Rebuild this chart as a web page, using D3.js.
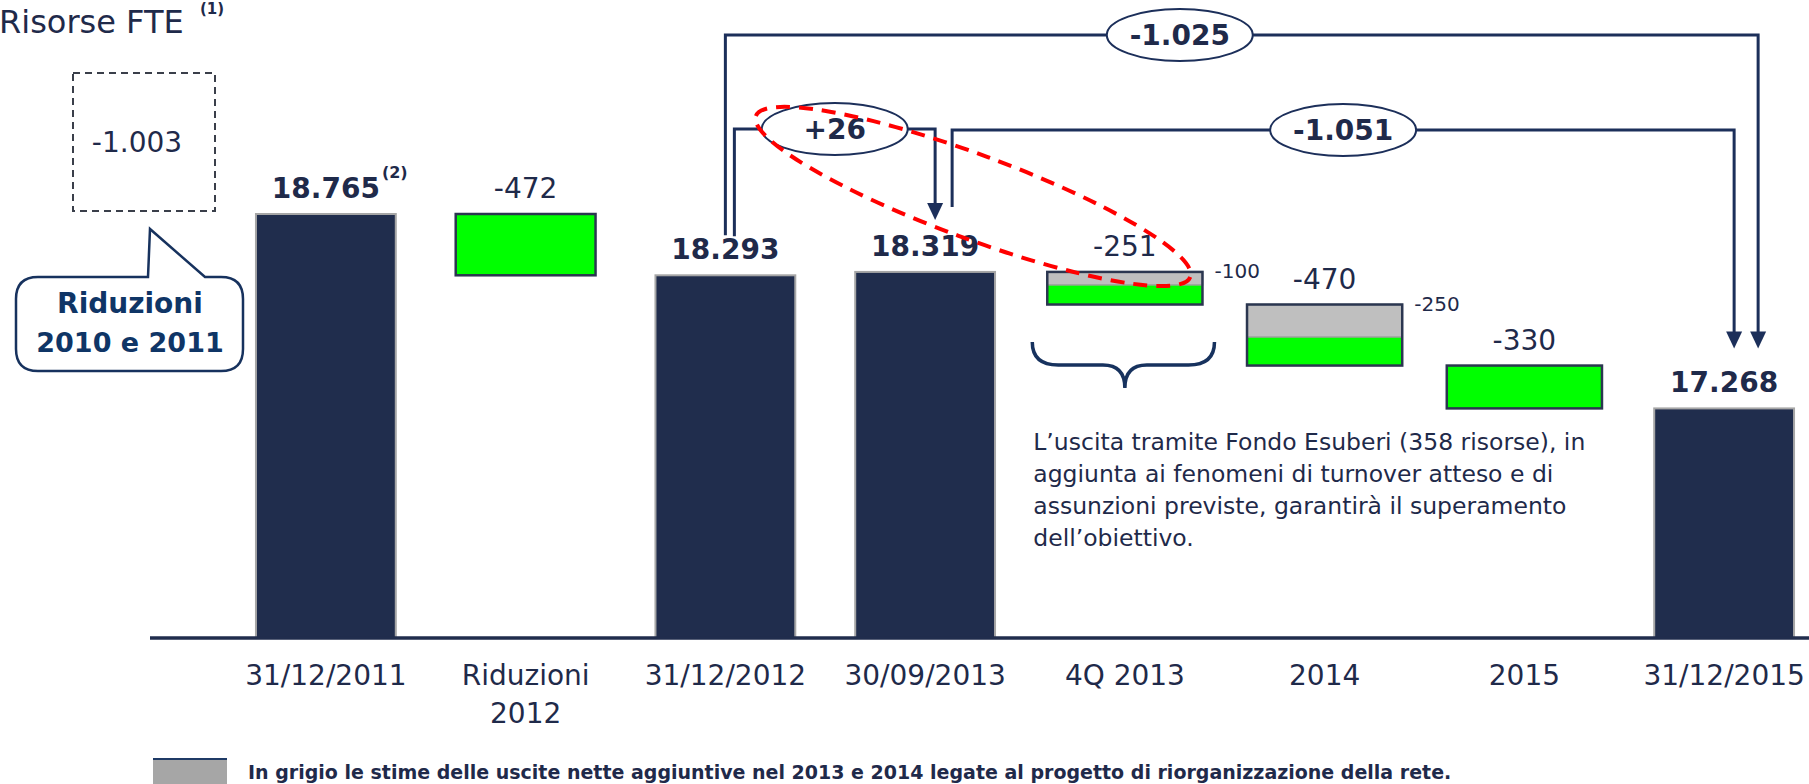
<!DOCTYPE html>
<html>
<head>
<meta charset="utf-8">
<script src="https://cdn.jsdelivr.net/npm/d3@7"></script>
<style>
  html, body { margin: 0; padding: 0; background: #fff; overflow: hidden; }
  svg { display: block; font-family: "DejaVu Sans", Verdana, sans-serif; }
</style>
</head>
<body>
<svg id="chart" width="1809" height="784"></svg>
<script>
// Dati del grafico (risorse FTE)
const categorie = ["31/12/2011", "Riduzioni 2012", "31/12/2012", "30/09/2013", "4Q 2013", "2014", "2015", "31/12/2015"];
const tipo = ["totale", "delta", "totale", "totale", "delta", "delta", "delta", "totale"];
const valori = [18765, -472, 18293, 18319, -251, -470, -330, 17268];
const quotaGrigia = [0, 0, 0, 0, -100, -250, 0, 0];
const previsione = ["4Q 2013", "2014", "2015"];
const riduzioni2010e2011 = -1003;

// Ponti fra totali (da -> a)
const pontiDa = ["31/12/2012", "31/12/2012", "30/09/2013"];
const pontiA = ["31/12/2015", "30/09/2013", "31/12/2015"];

const testoNota = "L\u2019uscita tramite Fondo Esuberi (358 risorse), in|aggiunta ai fenomeni di turnover atteso e di|assunzioni previste, garantir\u00e0 il superamento|dell\u2019obiettivo.";
const testoLegenda = "In grigio le stime delle uscite nette aggiuntive nel 2013 e 2014 legate al progetto di riorganizzazione della rete.";

// Colori
const navy = "#202d4d";
const testo = "#1f2a4a";
const linea = "#1c2f5a";
const verde = "#00ff00";
const grigio = "#bfbfbf";

const fmt = d3.formatLocale({ decimal: ",", thousands: ".", grouping: [3], currency: ["", "\u20ac"], minus: "-" });
const numero = fmt.format(",");
const conSegno = fmt.format("+,");

const svg = d3.select("#chart");
const base = 638;

const x = d3.scaleBand().domain(categorie).range([226, 1824]).paddingInner(0.3).paddingOuter(0.15);
const y = d3.scaleLinear().domain([15500, 18765]).range([base, 214]);

// Calcolo cascata
let corrente = 0;
const righe = categorie.map((c, i) => {
  let alto, basso;
  if (tipo[i] === "totale") {
    alto = valori[i]; basso = y.domain()[0]; corrente = valori[i];
  } else {
    alto = corrente; basso = corrente + valori[i]; corrente = basso;
  }
  const w = previsione.includes(c) ? x.bandwidth() * 1.11 : x.bandwidth();
  const cx = x(c) + x.bandwidth() / 2;
  return { cat: c, tipo: tipo[i], valore: valori[i], alto, basso, grigio: quotaGrigia[i], cx, w };
});
const perCat = Object.fromEntries(righe.map(d => [d.cat, d]));

// Barre totali
svg.append("g").selectAll("rect")
  .data(righe.filter(d => d.tipo === "totale"))
  .join("rect")
  .attr("x", d => d.cx - d.w / 2)
  .attr("y", d => y(d.alto))
  .attr("width", d => d.w)
  .attr("height", d => base - y(d.alto))
  .attr("fill", navy)
  .attr("stroke", "#a6a6a6")
  .attr("stroke-width", 2);

// Barre di variazione (verde + quota grigia)
const delta = righe.filter(d => d.tipo === "delta");
const gD = svg.append("g");
gD.selectAll("rect.verde")
  .data(delta)
  .join("rect")
  .attr("class", "verde")
  .attr("x", d => d.cx - d.w / 2)
  .attr("y", d => y(d.alto))
  .attr("width", d => d.w)
  .attr("height", d => y(d.basso) - y(d.alto))
  .attr("fill", verde);
gD.selectAll("rect.grigio")
  .data(delta.filter(d => d.grigio !== 0))
  .join("rect")
  .attr("class", "grigio")
  .attr("x", d => d.cx - d.w / 2)
  .attr("y", d => y(d.alto))
  .attr("width", d => d.w)
  .attr("height", d => y(d.alto + d.grigio) - y(d.alto))
  .attr("fill", grigio)
  .attr("stroke", "#a0a0a0")
  .attr("stroke-width", 1.5);
gD.selectAll("rect.bordo")
  .data(delta)
  .join("rect")
  .attr("class", "bordo")
  .attr("x", d => d.cx - d.w / 2)
  .attr("y", d => y(d.alto))
  .attr("width", d => d.w)
  .attr("height", d => y(d.basso) - y(d.alto))
  .attr("fill", "none")
  .attr("stroke", "#2b3650")
  .attr("stroke-width", 2.5);

// Etichette valori
svg.append("g").selectAll("text")
  .data(righe)
  .join("text")
  .attr("x", d => d.cx)
  .attr("y", d => y(d.alto) - 16)
  .attr("text-anchor", "middle")
  .attr("font-size", 28)
  .attr("font-weight", d => d.tipo === "totale" ? "bold" : "normal")
  .attr("fill", testo)
  .text(d => numero(d.valore));

// nota (2) sul primo totale
svg.append("text")
  .attr("x", righe[0].cx + 56)
  .attr("y", y(righe[0].alto) - 36)
  .attr("font-size", 16)
  .attr("font-weight", "bold")
  .attr("fill", testo)
  .text("(2)");

// etichette quota grigia
svg.append("g").selectAll("text")
  .data(delta.filter(d => d.grigio !== 0))
  .join("text")
  .attr("x", d => d.cx + d.w / 2 + 12)
  .attr("y", d => y(d.alto) + 6)
  .attr("font-size", 20)
  .attr("fill", testo)
  .text(d => numero(d.grigio));

// Asse x
svg.append("line")
  .attr("x1", 150).attr("x2", 1809)
  .attr("y1", base).attr("y2", base)
  .attr("stroke", navy)
  .attr("stroke-width", 3.5);

const asse = svg.append("g")
  .attr("transform", `translate(0,${base})`)
  .call(d3.axisBottom(x).tickSize(0).tickFormat(""));
asse.select(".domain").remove();
asse.selectAll(".tick").each(function (c) {
  const righeTesto = c.startsWith("Riduzioni") ? c.split(" ") : [c];
  const t = d3.select(this).append("text")
    .attr("x", 0)
    .attr("y", 47)
    .attr("text-anchor", "middle")
    .attr("font-size", 28)
    .attr("fill", testo)
    .attr("font-family", "DejaVu Sans, Verdana, sans-serif");
  righeTesto.forEach((r, k) => {
    t.append("tspan").attr("x", 0).attr("dy", k === 0 ? 0 : 38).text(r);
  });
});

// Ponti fra totali
const livelli = [35, 129, 130];
const posEtichetta = [0.44, 0.5, 0.5];
const scartoDa = [0, 9, 27];
const scartoA = [34, 10, 10];
const staccoDa = [40, 39, 65];
const staccoA = [60, 52, 60];

const gP = svg.append("g");
const ponti = pontiDa.map((da, i) => {
  const a = perCat[pontiA[i]], d0 = perCat[da];
  const x0 = d0.cx + scartoDa[i], x1 = a.cx + scartoA[i];
  const y0 = y(d0.alto) - staccoDa[i], y1 = y(a.alto) - staccoA[i];
  return { x0, x1, y0, y1, liv: livelli[i], ex: x0 + (x1 - x0) * posEtichetta[i], testo: conSegno(a.valore - d0.valore) };
});

gP.selectAll("path.linea")
  .data(ponti)
  .join("path")
  .attr("class", "linea")
  .attr("d", p => `M${p.x0},${p.y0}V${p.liv}H${p.x1}V${p.y1 - 14}`)
  .attr("fill", "none")
  .attr("stroke", linea)
  .attr("stroke-width", 3);
gP.selectAll("path.freccia")
  .data(ponti)
  .join("path")
  .attr("class", "freccia")
  .attr("d", p => `M${p.x1},${p.y1}L${p.x1 - 8},${p.y1 - 17}L${p.x1 + 8},${p.y1 - 17}Z`)
  .attr("fill", linea);
gP.selectAll("ellipse")
  .data(ponti)
  .join("ellipse")
  .attr("cx", p => p.ex)
  .attr("cy", p => p.liv)
  .attr("rx", 73)
  .attr("ry", 26)
  .attr("fill", "#fff")
  .attr("stroke", linea)
  .attr("stroke-width", 2);
gP.selectAll("text")
  .data(ponti)
  .join("text")
  .attr("x", p => p.ex)
  .attr("y", p => p.liv + 10)
  .attr("text-anchor", "middle")
  .attr("font-size", 28)
  .attr("font-weight", "bold")
  .attr("fill", testo)
  .text(p => p.testo);

// Ellisse rossa tratteggiata (+26 e quota grigia 4Q 2013)
const q4 = perCat["4Q 2013"];
const p1 = [ponti[1].ex - 76, ponti[1].liv - 16];
const p2 = [q4.cx + q4.w / 2 - 15, y(q4.alto)];
const ang = Math.atan2(p2[1] - p1[1], p2[0] - p1[0]) * 180 / Math.PI;
const lun = Math.hypot(p2[0] - p1[0], p2[1] - p1[1]);
svg.append("ellipse")
  .attr("transform", `translate(${(p1[0] + p2[0]) / 2},${(p1[1] + p2[1]) / 2 + 4}) rotate(${ang})`)
  .attr("rx", lun / 2 + 3)
  .attr("ry", 42)
  .attr("fill", "none")
  .attr("stroke", "#ff0000")
  .attr("stroke-width", 4)
  .attr("stroke-dasharray", "14 9");

// Parentesi graffa sotto 4Q 2013
const bx0 = q4.cx - q4.w / 2 - 15, bx1 = q4.cx + q4.w / 2 + 12, bc = q4.cx;
svg.append("path")
  .attr("d", `M${bx0},342 Q${bx0},365 ${bx0 + 26},365 L${bc - 22},365 Q${bc},365 ${bc},388 Q${bc},365 ${bc + 22},365 L${bx1 - 26},365 Q${bx1},365 ${bx1},342`)
  .attr("fill", "none")
  .attr("stroke", "#17325e")
  .attr("stroke-width", 3.5);

// Nota testuale
const nota = svg.append("text")
  .attr("x", bx0 + 1)
  .attr("y", 450)
  .attr("font-size", 23.5)
  .attr("fill", testo);
testoNota.split("|").forEach((r, k) => {
  nota.append("tspan").attr("x", bx0 + 1).attr("dy", k === 0 ? 0 : 32).text(r);
});

// Titolo
svg.append("text")
  .attr("x", -1).attr("y", 33)
  .attr("font-size", 32)
  .attr("fill", testo)
  .text("Risorse FTE");
svg.append("text")
  .attr("x", 200).attr("y", 14)
  .attr("font-size", 15)
  .attr("font-weight", "bold")
  .attr("fill", testo)
  .text("(1)");

// Riquadro tratteggiato riduzioni 2010-2011
svg.append("rect")
  .attr("x", 73).attr("y", 73)
  .attr("width", 142).attr("height", 138)
  .attr("fill", "none")
  .attr("stroke", "#3a3f4a")
  .attr("stroke-width", 2)
  .attr("stroke-dasharray", "7 5");
svg.append("text")
  .attr("x", 137).attr("y", 152)
  .attr("text-anchor", "middle")
  .attr("font-size", 28)
  .attr("fill", testo)
  .text(numero(riduzioni2010e2011));

// Fumetto
svg.append("path")
  .attr("d", "M38,277 L148,277 L150,229 L205,277 L221,277 Q243,277 243,299 L243,349 Q243,371 221,371 L38,371 Q16,371 16,349 L16,299 Q16,277 38,277 Z")
  .attr("fill", "#fff")
  .attr("stroke", "#17325e")
  .attr("stroke-width", 2.5);
svg.append("text")
  .attr("x", 130).attr("y", 313)
  .attr("text-anchor", "middle")
  .attr("font-size", 28)
  .attr("font-weight", "bold")
  .attr("fill", "#0f3566")
  .text("Riduzioni");
svg.append("text")
  .attr("x", 130).attr("y", 352)
  .attr("text-anchor", "middle")
  .attr("font-size", 27)
  .attr("font-weight", "bold")
  .attr("fill", "#0f3566")
  .text("2010 e 2011");

// Legenda
svg.append("rect")
  .attr("x", 153).attr("y", 759)
  .attr("width", 74).attr("height", 30)
  .attr("fill", "#a6a6a6");
svg.append("line")
  .attr("x1", 153).attr("x2", 227)
  .attr("y1", 759).attr("y2", 759)
  .attr("stroke", "#1f3a66")
  .attr("stroke-width", 2);
svg.append("text")
  .attr("x", 248).attr("y", 779)
  .attr("font-size", 19)
  .attr("font-weight", "bold")
  .attr("fill", testo)
  .text(testoLegenda);
</script>
</body>
</html>
